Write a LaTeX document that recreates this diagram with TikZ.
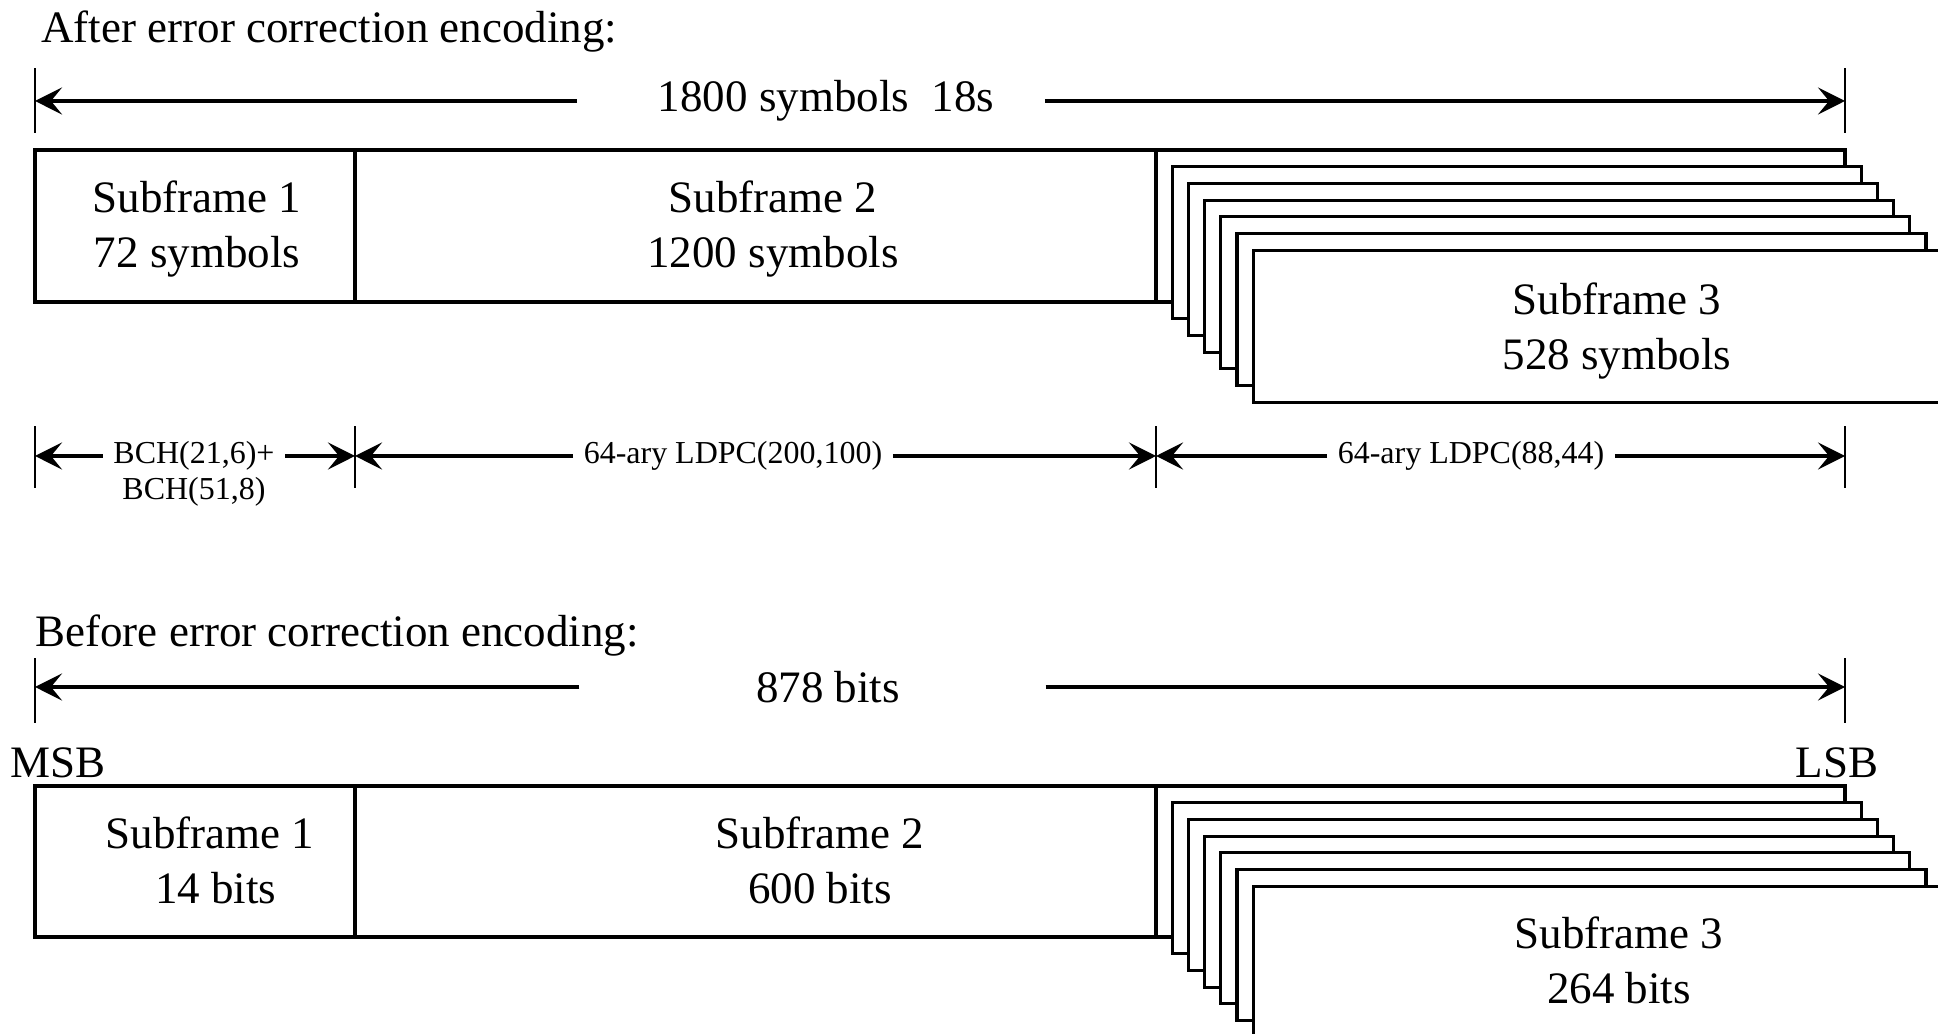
\documentclass[tikz,border=0pt]{standalone}
\usepackage{fontspec}
\setmainfont{Liberation Serif}
\usepackage{tikz}
\usetikzlibrary{arrows.meta}

\begin{document}
\begin{tikzpicture}[>={Stealth[length=2.7mm, width=2.7mm, inset=1.1mm]},
  frame/.style={draw, line width=0.9pt, fill=white},
  dim/.style={->, line width=1.1pt},
  tick/.style={line width=0.8pt},
  big/.style={font=\fontsize{12.8}{15.6}\selectfont, align=center},
  small/.style={font=\fontsize{9.1}{11}\selectfont, inner sep=1mm}]

  \useasboundingbox (0,0) rectangle (19.38,10.34);

  % After encoding
  \node[big, anchor=west] (after) at (0.29,10.02) {After error correction encoding:};

  % Total length
  \draw[tick] (0.35,9.01) -- (0.35,9.66);
  \draw[tick] (18.45,9.01) -- (18.45,9.66);
  \coordinate (tL) at (0.35,9.33);
  \coordinate (tR) at (18.45,9.33);
  \node[big, inner sep=0] (tot) at (8.26,9.33) {1800 symbols\ \ 18s};
  \draw[dim] ([xshift=-0.8cm]tot.west) -- (tL);
  \draw[dim] ([xshift=0.5cm]tot.east) -- (tR);

  % Frame
  \draw[frame] (0.35,8.84) rectangle (3.55,7.32);
  \draw[frame] (3.55,8.84) rectangle (11.56,7.32);
  \foreach \k in {0,...,6}
    \draw[frame] ({11.56+0.162*\k},{8.84-0.167*\k}) rectangle ++(6.89,-1.52);
  \node[big] (sfa) at (1.97,8.05) {Subframe 1\\72 symbols};
  \node[big] (sfb) at (7.73,8.05) {Subframe 2\\1200 symbols};
  \node[big] (sfc) at (16.17,7.03) {Subframe 3\\528 symbols};

  % Codes
  \foreach \x/\n in {0.35/m1, 3.55/m2, 11.56/m3, 18.45/m4} {
    \draw[tick] (\x,5.46) -- (\x,6.08);
    \coordinate (\n) at (\x,5.78);
  }
  \node[small] (bch) at (1.94,5.78) {BCH(21,6)+};
  \node[small] (bchb) at (1.94,5.42) {BCH(51,8)};
  \node[small] (ldpca) at (7.33,5.78) {64-ary LDPC(200,100)};
  \node[small] (ldpcb) at (14.71,5.78) {64-ary LDPC(88,44)};
  \draw[dim] (bch.west) -- (m1);
  \draw[dim] (bch.east) -- (m2);
  \draw[dim] (ldpca.west) -- (m2);
  \draw[dim] (ldpca.east) -- (m3);
  \draw[dim] (ldpcb.west) -- (m3);
  \draw[dim] (ldpcb.east) -- (m4);

  % Before encoding
  \node[big, anchor=west] (before) at (0.23,3.98) {Before error correction encoding:};

  \draw[tick] (0.35,3.11) -- (0.35,3.76);
  \draw[tick] (18.45,3.11) -- (18.45,3.76);
  \coordinate (bL) at (0.35,3.47);
  \coordinate (bR) at (18.45,3.47);
  \node[big, inner sep=0] (bits) at (8.28,3.47) {878 bits};
  \draw[dim] ([xshift=-1.76cm]bits.west) -- (bL);
  \draw[dim] ([xshift=1.45cm]bits.east) -- (bR);

  \node[big] (msb) at (0.58,2.71) {MSB};
  \node[big] (lsb) at (18.37,2.71) {LSB};

  \draw[frame] (0.35,2.48) rectangle (3.55,0.97);
  \draw[frame] (3.55,2.48) rectangle (11.56,0.97);
  \foreach \k in {0,...,6}
    \draw[frame] ({11.56+0.162*\k},{2.48-0.167*\k}) rectangle ++(6.89,-1.51);
  \node[big] (sfd) at (2.1,1.74) {Subframe 1\\\ 14 bits};
  \node[big] (sfe) at (8.2,1.74) {Subframe 2\\600 bits};
  \node[big] (sff) at (16.19,0.74) {Subframe 3\\264 bits};

\end{tikzpicture}
\end{document}
